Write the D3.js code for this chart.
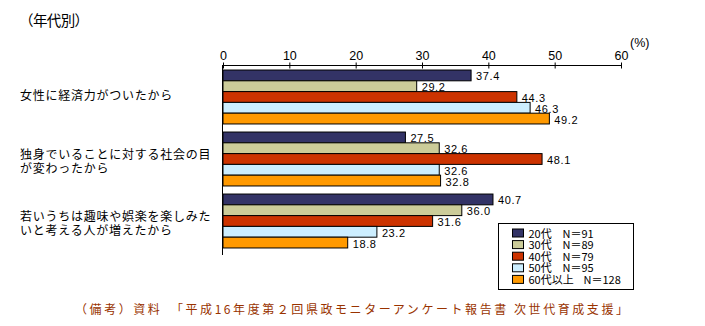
<!DOCTYPE html>
<html>
<head>
<meta charset="utf-8">
<script src="https://cdn.jsdelivr.net/npm/d3@7"></script>
<style>
  body { margin: 0; background: #fff; }
  svg text { font-family: "Liberation Sans", Arial, sans-serif; }
  .jp { font-family: "Noto Sans CJK JP", "Noto Sans", sans-serif; }
</style>
</head>
<body>
<svg id="chart" width="705" height="326"></svg>
<script>
"use strict";

// reasons (each may wrap to 2 lines)
var categories = [
	["女性に経済力がついたから"],
	["独身でいることに対する社会の目", "が変わったから"],
	["若いうちは趣味や娯楽を楽しみた", "いと考える人が増えたから"]
];
var series = ["20代", "30代", "40代", "50代", "60代以上"];
var seriesN = ["N＝91", "N＝89", "N＝79", "N＝95", "N＝128"];
var colors = ["#333366", "#cccc99", "#cc3300", "#cceeff", "#ff9900"];
// values[category][series]
var values = [
	[37.4, 29.2, 44.3, 46.3, 49.2],
	[27.5, 32.6, 48.1, 32.6, 32.8],
	[40.7, 36.0, 31.6, 23.2, 18.8]
];
var xTicks = [0, 10, 20, 30, 40, 50, 60];

var svg = d3.select("#chart");

var x = d3.scaleLinear().domain([0, 60]).range([223, 621]);
var y0 = d3.scaleBand()
	.domain(d3.range(categories.length))
	.range([65, 252])
	.paddingInner(0.13)
	.paddingOuter(0.073);
var y1 = d3.scaleBand()
	.domain(d3.range(series.length))
	.range([0, y0.bandwidth()]);

// title
svg.append("text")
   .attr("class", "jp")
   .attr("x", 19).attr("y", 26)
   .attr("textLength", 70)
   .attr("lengthAdjust", "spacing")
   .style("font-size", "14.5px")
   .text("（年代別）");

// axis on top
var axis = d3.axisTop(x).tickValues(xTicks).tickSize(3).tickPadding(3);
var gAxis = svg.append("g")
	.attr("transform", "translate(0,65.5)")
	.call(axis);
gAxis.select(".domain").attr("d", "M" + x(0) + ",0H" + x(60)).attr("stroke", "#000");
gAxis.selectAll(".tick line").attr("y1", 3).attr("y2", -3).attr("stroke", "#000");
gAxis.selectAll(".tick text")
	 .style("font-size", "12.5px")
	 .style("font-family", "Liberation Sans, Arial, sans-serif")
	 .attr("fill", "#000");

svg.append("text")
   .attr("x", 630).attr("y", 47)
   .style("font-size", "12.5px")
   .text("(%)");

// left axis line
svg.append("line")
   .attr("x1", x(0) - 0.5).attr("x2", x(0) - 0.5)
   .attr("y1", 65).attr("y2", 255)
   .attr("stroke", "#000");

// bars
var groups = svg.append("g").selectAll("g")
	.data(values)
	.enter().append("g")
	.attr("transform", (d, i) => "translate(0," + y0(i) + ")");

groups.selectAll("rect")
	.data(d => d)
	.enter().append("rect")
	.attr("x", x(0))
	.attr("y", (d, j) => y1(j) + 0.5)
	.attr("width", d => x(d) - x(0))
	.attr("height", y1.bandwidth())
	.attr("fill", (d, j) => colors[j])
	.attr("stroke", "#000")
	.attr("stroke-width", 1);

groups.selectAll("text.val")
	.data(d => d)
	.enter().append("text")
	.attr("class", "val")
	.attr("x", d => x(d) + 5)
	.attr("y", (d, j) => y1(j) + y1.bandwidth() / 2 + 5.5)
	.style("font-size", "11px")
	.style("letter-spacing", "0.6px")
	.text(d => d.toFixed(1));

// category labels
svg.append("g").selectAll("text")
	.data(categories)
	.enter().append("text")
	.attr("class", "jp")
	.style("font-size", "12px")
	.style("letter-spacing", "0.75px")
	.each(function(d, i) {
		var c = y0(i) + y0.bandwidth() / 2;
		var t = d3.select(this);
		var firstY = d.length == 1 ? c + 4 : c;
		d.forEach((line, k) => {
			t.append("tspan")
			 .attr("x", 20)
			 .attr("y", firstY + k * 14.5)
			 .text(line);
		});
	});

// legend
var lg = svg.append("g").attr("transform", "translate(498.5,223.5)");
lg.append("rect")
  .attr("width", 135).attr("height", 66)
  .attr("fill", "#fff").attr("stroke", "#000");
var ly = d3.scaleBand().domain(d3.range(series.length)).range([4, 62]);
var items = lg.selectAll("g.item")
	.data(series)
	.enter().append("g")
	.attr("class", "item")
	.attr("transform", (d, i) => "translate(0," + ly(i) + ")");
items.append("rect")
	 .attr("x", 14).attr("y", 1.5)
	 .attr("width", 11).attr("height", 8)
	 .attr("fill", (d, i) => colors[i])
	 .attr("stroke", "#000");
items.append("text")
	 .attr("class", "jp")
	 .attr("x", 30).attr("y", 10)
	 .style("font-size", "11px")
	 .text(d => d);
items.append("text")
	 .attr("class", "jp")
	 .attr("x", (d, i) => i == 4 ? 85 : 64).attr("y", 10)
	 .style("font-size", "11px")
	 .text((d, i) => seriesN[i]);

// footer note
svg.append("text")
   .attr("class", "jp")
   .attr("x", 75).attr("y", 314)
   .attr("textLength", 553)
   .attr("lengthAdjust", "spacing")
   .attr("fill", "#993300")
   .style("font-size", "12px")
   .text("（備考）資料　「平成16年度第２回県政モニターアンケート報告書 次世代育成支援」");
</script>
</body>
</html>
